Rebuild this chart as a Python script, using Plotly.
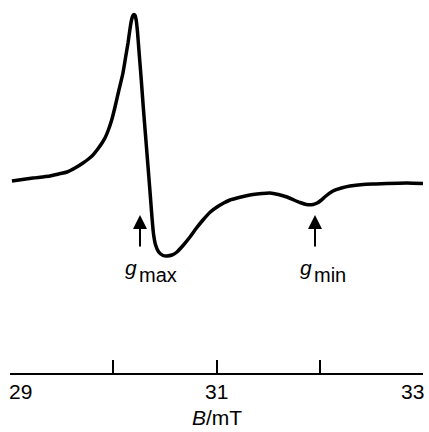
import plotly.graph_objects as go

# Field (mT) and derivative EPR signal (arbitrary units, baseline = 0)
field_mT = [29.019, 29.120, 29.223, 29.310, 29.387, 29.470, 29.552, 29.630, 29.707,
            29.760, 29.804, 29.850, 29.891, 29.920, 29.949, 29.985, 30.017, 30.055,
            30.094, 30.120, 30.143, 30.162, 30.177, 30.191, 30.201, 30.211, 30.222,
            30.235, 30.250, 30.270, 30.290, 30.310, 30.337, 30.360, 30.375, 30.390,
            30.410, 30.440, 30.482, 30.521, 30.569, 30.617, 30.680, 30.743, 30.806,
            30.869, 30.940, 31.005, 31.070, 31.131, 31.199, 31.280, 31.354, 31.440,
            31.518, 31.600, 31.683, 31.750, 31.809, 31.870, 31.935, 31.975, 32.010,
            32.060, 32.128, 32.210, 32.293, 32.419, 32.540, 32.651, 32.845, 33.000]
signal = [1, 2.5, 4, 5, 6, 8, 10, 14, 19,
          23, 27, 33, 39, 44, 51, 62, 75, 92,
          109, 125, 139, 153, 162, 166.5, 167.5, 166.5, 162,
          150, 130, 104, 76, 50, 15, -15, -35, -52,
          -63, -70, -73.5, -74, -73, -70, -63, -55, -46,
          -38, -30, -25, -21, -18, -16, -14, -12.5, -11.5,
          -11, -12.5, -15, -18, -20.5, -22.5, -22.5, -21, -18.5,
          -14, -9, -6, -4, -2.5, -2, -1.5, -1, -1.5]

# Marked features
g_labels = ["max", "min"]
g_fields = [30.259, 31.954]

tick_vals = [29, 30, 31, 32, 33]
label_vals = [29, 31, 33]
label_text = ["29", "31", "33"]

fig = go.Figure()
fig.add_trace(go.Scatter(x=field_mT, y=signal, mode="lines",
                         line=dict(color="black", width=3.5, shape="spline", smoothing=0.6),
                         hoverinfo="skip"))

FONT = "Liberation Sans, Arial, sans-serif"
ann = []
for lab, bx in zip(g_labels, g_fields):
    ann.append(dict(x=bx, y=-33, ax=bx, ay=-66, xref="x", yref="y", axref="x", ayref="y",
                    showarrow=True, arrowhead=2, arrowsize=1.4, arrowwidth=2,
                    arrowcolor="black", text="", standoff=0))
    ann.append(dict(x=bx, y=-90, xref="x", yref="y", xanchor="right", yanchor="middle",
                    xshift=-1, yshift=5, showarrow=False, text="<i>g</i>",
                    font=dict(family=FONT, size=21, color="black")))
    ann.append(dict(x=bx, y=-90, xref="x", yref="y", xanchor="left", yanchor="middle",
                    xshift=-3, yshift=-3, showarrow=False, text=lab,
                    font=dict(family=FONT, size=20, color="black")))

anchors = ["left", "center", "right"]
for v, t, a in zip(label_vals, label_text, anchors):
    ann.append(dict(x=v, y=0, xref="x", yref="paper", xanchor=a, yanchor="middle",
                    xshift=-3 if a == "left" else (3 if a == "right" else 0),
                    yshift=-18, showarrow=False, text=t,
                    font=dict(family=FONT, size=21, color="black")))

ann.append(dict(x=31, y=0, xref="x", yref="paper", xanchor="center", yanchor="middle",
                yshift=-44, showarrow=False, text="<i>B</i>/mT",
                font=dict(family=FONT, size=21, color="black")))

fig.update_layout(
    width=429, height=432,
    margin=dict(l=10, r=6, t=0, b=59),
    paper_bgcolor="white", plot_bgcolor="white",
    showlegend=False,
    xaxis=dict(range=[29, 33], showgrid=False, zeroline=False, showline=True,
               linecolor="black", linewidth=2, ticks="inside", ticklen=13,
               tickwidth=2, tickcolor="black", tickvals=tick_vals,
               showticklabels=False, fixedrange=True),
    yaxis=dict(range=[-191, 182], visible=False, fixedrange=True),
    annotations=ann,
)

fig.write_html("out.html", config={"displayModeBar": False},
               post_script="document.body.style.margin='0';document.body.style.overflow='hidden';")
